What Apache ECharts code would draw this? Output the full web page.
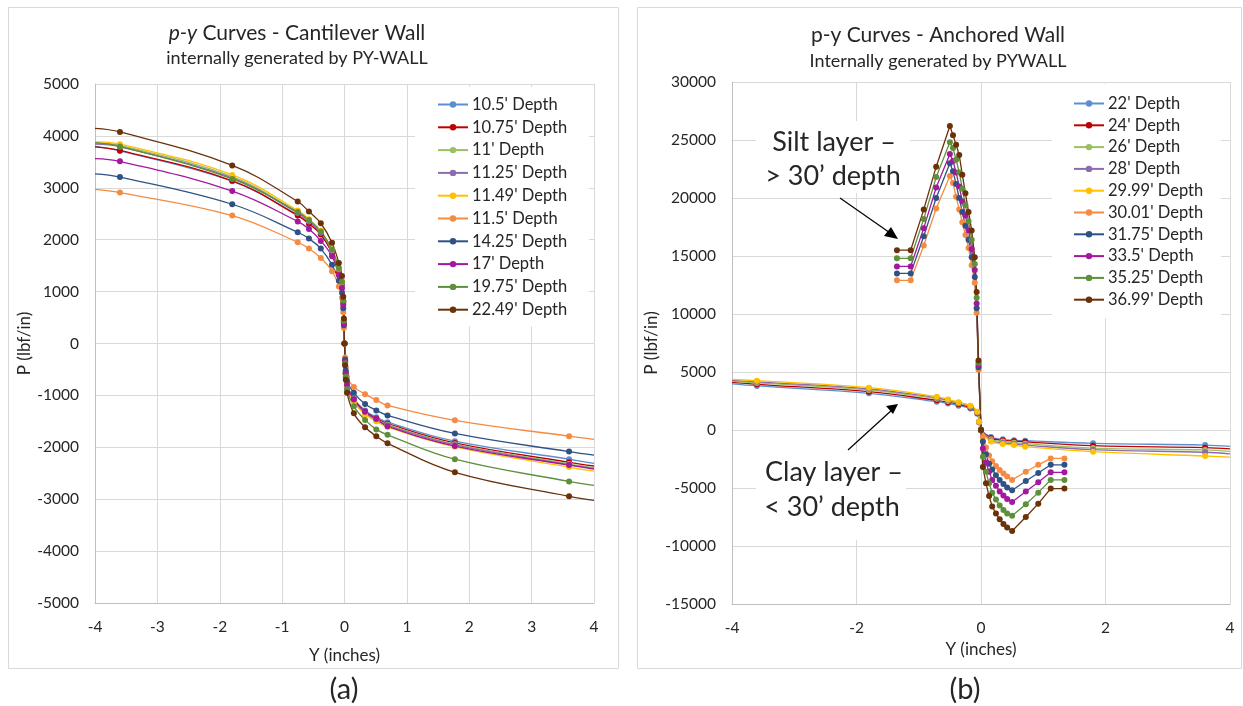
<!DOCTYPE html>
<html>
<head>
<meta charset="utf-8">
<script src="https://cdn.jsdelivr.net/npm/echarts@6/dist/echarts.min.js"></script>
<style>
  html, body { margin: 0; padding: 0; background: #fff; }
  #main { width: 1243px; height: 706px; }
</style>
</head>
<body>
<div id="main"></div>
<script>
// (a) cantilever wall: shared Y (inches) positions, P values per depth
const leftX = [-4, -3.6, -1.8, -0.75, -0.57, -0.38, -0.2, -0.09, -0.04, -0.02, -0.01, 0, 0.01, 0.02, 0.04, 0.15, 0.33, 0.51, 0.69, 1.77, 3.6, 4]
const leftNames = ["10.5' Depth", "10.75' Depth", "11' Depth", "11.25' Depth", "11.49' Depth", "11.5' Depth", "14.25' Depth", "17' Depth", "19.75' Depth", "22.49' Depth"]
const d1050 = [3798, 3711, 3127, 2480, 2320, 2110, 1760, 1400, 1150, 800, 420, 0, -330, -560, -780, -1060, -1290, -1420, -1516, -1882, -2230, -2308]
const d1075 = [3789, 3720, 3135, 2465, 2305, 2100, 1750, 1390, 1140, 790, 410, 0, -340, -570, -790, -1080, -1310, -1445, -1545, -1915, -2290, -2360]
const d1100 = [3860, 3815, 3214, 2530, 2365, 2150, 1790, 1430, 1170, 820, 430, 0, -345, -580, -800, -1100, -1335, -1465, -1565, -1940, -2320, -2395]
const d1125 = [3840, 3790, 3190, 2515, 2350, 2135, 1780, 1420, 1160, 810, 425, 0, -350, -585, -805, -1110, -1345, -1475, -1580, -1955, -2335, -2410]
const d1149 = [3885, 3841, 3249, 2565, 2395, 2175, 1810, 1450, 1190, 830, 440, 0, -355, -595, -820, -1130, -1370, -1500, -1610, -1990, -2380, -2460]
const d1150 = [2970, 2909, 2465, 1951, 1829, 1646, 1394, 1098, 880, 600, 300, 0, -270, -460, -645, -836, -976, -1089, -1193, -1481, -1786, -1847]
const d1425 = [3267, 3206, 2683, 2143, 2021, 1829, 1516, 1211, 980, 680, 350, 0, -310, -520, -720, -950, -1167, -1289, -1385, -1733, -2082, -2150]
const d1700 = [3563, 3510, 2936, 2352, 2204, 1977, 1681, 1315, 1070, 740, 380, 0, -345, -580, -800, -1080, -1315, -1455, -1594, -1977, -2343, -2420]
const d1975 = [3870, 3798, 3171, 2535, 2378, 2160, 1812, 1455, 1190, 830, 440, 0, -380, -640, -880, -1210, -1472, -1655, -1760, -2230, -2657, -2735]
const d2249 = [4146, 4077, 3432, 2735, 2544, 2317, 1943, 1550, 1300, 900, 480, 0, -420, -700, -950, -1346, -1615, -1788, -1923, -2483, -2944, -3022]
const leftData = [d1050, d1075, d1100, d1125, d1149, d1150, d1425, d1700, d1975, d2249]

// (b) anchored wall: clay layer (< 30')
const clayX = [-4, -3.6, -1.8, -0.71, -0.53, -0.36, -0.17, -0.06, -0.03, 0, 0.16, 0.35, 0.53, 0.71, 1.8, 3.6, 4]
const clayNames = ["22' Depth", "24' Depth", "26' Depth", "28' Depth", "29.99' Depth"]
const d22 = [3970, 3800, 3160, 2440, 2280, 2100, 1850, 1400, 650, 0, -600, -800, -880, -920, -1150, -1300, -1420]
const d24 = [4100, 3940, 3300, 2560, 2400, 2220, 1930, 1460, 680, 0, -700, -880, -960, -1020, -1350, -1520, -1620]
const d26 = [4200, 4060, 3450, 2700, 2510, 2300, 2000, 1510, 700, 0, -800, -1000, -1100, -1180, -1560, -1720, -1850]
const d28 = [4280, 4150, 3550, 2790, 2580, 2350, 2050, 1550, 710, 0, -900, -1100, -1200, -1300, -1700, -1920, -2060]
const d2999 = [4370, 4250, 3650, 2870, 2640, 2390, 2100, 1580, 720, 0, -1000, -1200, -1300, -1440, -1870, -2240, -2330]
const clayData = [d22, d24, d26, d28, d2999]

// (b) silt layer (> 30')
const siltX = [-1.35, -1.13, -0.92, -0.72, -0.5, -0.45, -0.4, -0.35, -0.3, -0.25, -0.2, -0.15, -0.1, -0.07, -0.04, 0, 0.03, 0.08, 0.13, 0.18, 0.24, 0.3, 0.36, 0.42, 0.5, 0.72, 0.92, 1.12, 1.34]
const siltNames = ["30.01' Depth", "31.75' Depth", "33.5' Depth", "35.25' Depth", "36.99' Depth"]
const d3001 = [12900, 12900, 15900, 19100, 21900, 21300, 20100, 19000, 17900, 16800, 15700, 14200, 12700, 10100, 5200, 0, -600, -1500, -2200, -2700, -3100, -3450, -3750, -4000, -4300, -3600, -3000, -2450, -2450]
const d3175 = [13500, 13500, 16700, 20000, 23000, 22300, 21200, 20000, 18800, 17600, 16400, 14900, 13200, 10500, 5400, 0, -1000, -2100, -2900, -3400, -3900, -4300, -4650, -4950, -5200, -4400, -3700, -3000, -3000]
const d3350 = [14100, 14100, 17400, 20900, 23800, 23200, 22200, 21000, 19700, 18500, 17200, 15600, 13800, 10900, 5600, 0, -1600, -2800, -3600, -4300, -4800, -5300, -5650, -5950, -6200, -5300, -4500, -3650, -3650]
const d3525 = [14800, 14800, 18200, 21800, 24800, 24300, 23300, 22200, 20800, 19400, 18000, 16400, 14300, 11400, 5800, 0, -2300, -3600, -4600, -5400, -6000, -6500, -6900, -7200, -7400, -6400, -5400, -4300, -4300]
const d3699 = [15500, 15500, 19000, 22700, 26200, 25400, 24600, 23700, 22000, 20400, 18800, 17200, 14900, 11900, 6000, 0, -3200, -4600, -5700, -6600, -7200, -7700, -8100, -8400, -8700, -7500, -6350, -5050, -5050]
const siltData = [d3001, d3175, d3350, d3525, d3699]

const colors = ['#5B8FD0', '#C00000', '#9BC063', '#8C6BB1', '#FFC000', '#F58A42', '#2E5283', '#A3189E', '#5E8F3A', '#6B3108']
const FONT = 'Lato'
const TXT = '#262626'

const myChart = echarts.init(document.getElementById('main'))

// points at the axis edges carry no marker, as in the original
const toPoints = (xs, ys, edges) => xs.map((x, i) =>
  edges && (i === 0 || i === xs.length - 1) ? { value: [x, ys[i]], symbol: 'none' } : [x, ys[i]])

const mkSeries = (name, xs, ys, idx, color, edges, smooth) => ({
  name,
  type: 'line',
  xAxisIndex: idx,
  yAxisIndex: idx,
  data: toPoints(xs, ys, edges),
  smooth: smooth ? 0.4 : false,
  symbol: 'circle',
  symbolSize: 6,
  showAllSymbol: true,
  color,
  lineStyle: { width: 1.3, color },
  itemStyle: { color },
  emphasis: { disabled: true },
  animation: false
})

const series = []
leftData.forEach((ys, i) => series.push(mkSeries(leftNames[i], leftX, ys, 0, colors[i], true, true)))
clayData.forEach((ys, i) => series.push(mkSeries(clayNames[i], clayX, ys, 1, colors[i], true, true)))
siltData.forEach((ys, i) => series.push(mkSeries(siltNames[i], siltX, ys, 1, colors[i + 5], false, false)))

const axisCommon = {
  type: 'value',
  axisTick: { show: false },
  axisLine: { show: true, onZero: false, lineStyle: { color: '#bfbfbf', width: 1 } },
  splitLine: { show: true, lineStyle: { color: '#d9d9d9', width: 1 } },
  axisLabel: { fontFamily: FONT, fontSize: 15.5, color: TXT, margin: 16, formatter: v => String(v) },
  nameTextStyle: { fontFamily: FONT, fontSize: 17, color: TXT },
  nameLocation: 'middle'
}

const legendCommon = {
  orient: 'vertical',
  backgroundColor: '#fff',
  itemWidth: 30,
  itemHeight: 8,
  itemStyle: { borderWidth: 0 },
  textStyle: { fontFamily: FONT, fontSize: 16.5, color: TXT, padding: [0, 0, 0, -1] },
  selectedMode: false,
  z: 10
}

const titleText = (x, y, text, size, rich) => ({
  type: 'text', x, y, z: 20,
  style: { text, fontFamily: FONT, fontSize: size, fill: TXT, align: 'center', verticalAlign: 'middle', rich }
})

const option = {
  animation: false,
  grid: [
    { left: 95, top: 84, width: 499, height: 519 },
    { left: 732, top: 82, width: 498, height: 522 }
  ],
  xAxis: [
    { ...axisCommon, gridIndex: 0, min: -4, max: 4, interval: 1, name: 'Y (inches)', nameGap: 44 },
    { ...axisCommon, gridIndex: 1, min: -4, max: 4, interval: 2, name: 'Y (inches)', nameGap: 36 }
  ],
  yAxis: [
    { ...axisCommon, gridIndex: 0, min: -5000, max: 5000, interval: 1000, name: 'P (lbf/in)', nameGap: 62 },
    { ...axisCommon, gridIndex: 1, min: -15000, max: 30000, interval: 5000, name: 'P (lbf/in)', nameGap: 72 }
  ],
  legend: [
    { ...legendCommon, data: leftNames, left: 415, top: 87, padding: [9, 22, 8, 22], itemGap: 5.8 },
    { ...legendCommon, data: clayNames.concat(siltNames), left: 1052, top: 84, padding: [11, 18, 10, 21], itemGap: 4.8 }
  ],
  graphic: [
    { type: 'rect', z: 1, shape: { x: 8.5, y: 7.5, width: 610, height: 661 }, style: { fill: 'none', stroke: '#d9d9d9', lineWidth: 1 } },
    { type: 'rect', z: 1, shape: { x: 637.5, y: 7.5, width: 604, height: 661 }, style: { fill: 'none', stroke: '#d9d9d9', lineWidth: 1 } },
    titleText(297, 33, '{i|p-y} Curves - Cantilever Wall', 21, { i: { fontStyle: 'italic', fontFamily: FONT, fontSize: 21, fill: TXT } }),
    titleText(297, 58, 'internally generated by PY-WALL', 18),
    titleText(938, 35, 'p-y Curves - Anchored Wall', 21),
    titleText(938, 61, 'Internally generated by PYWALL', 18),
    titleText(344, 690, '(a)', 29),
    titleText(965, 690, '(b)', 29),
    // annotation boxes
    { type: 'rect', z: 15, shape: { x: 756, y: 121, width: 154, height: 72 }, style: { fill: '#fff' } },
    { type: 'rect', z: 15, shape: { x: 756, y: 452, width: 150, height: 88 }, style: { fill: '#fff' } },
    titleText(834, 142, 'Silt layer \u2013', 27),
    titleText(833, 176, '> 30\u2019 depth', 27),
    titleText(834, 472, 'Clay layer \u2013', 27),
    titleText(832, 507, '< 30\u2019 depth', 27),
    { type: 'line', z: 20, shape: { x1: 840, y1: 198, x2: 893, y2: 235 }, style: { stroke: '#000', lineWidth: 1.2 } },
    { type: 'polygon', z: 20, shape: { points: [[898, 239], [884, 236], [891, 227]] }, style: { fill: '#000' } },
    { type: 'line', z: 20, shape: { x1: 848, y1: 450, x2: 893, y2: 409 }, style: { stroke: '#000', lineWidth: 1.2 } },
    { type: 'polygon', z: 20, shape: { points: [[898, 404], [886, 406], [893, 414]] }, style: { fill: '#000' } }
  ],
  series
}

myChart.setOption(option)

window.addEventListener('resize', () => {
  myChart.resize()
})
</script>
</body>
</html>
